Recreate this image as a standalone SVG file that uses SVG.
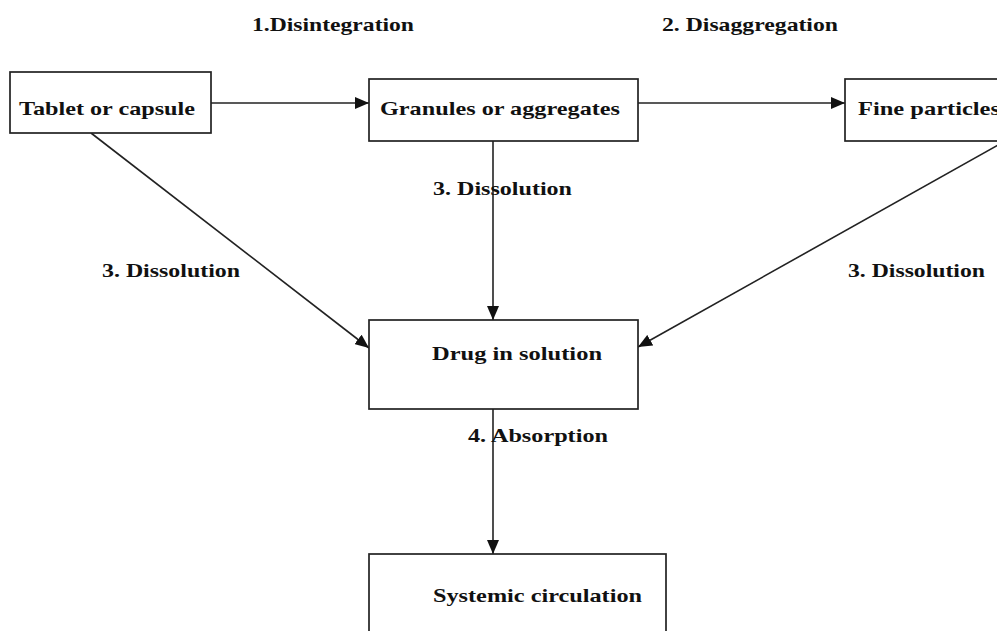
<svg xmlns="http://www.w3.org/2000/svg" width="997" height="631" viewBox="0 0 997 631">
<style>
.box{fill:#fff;stroke:#222;stroke-width:1.7}
.t{font-family:"Liberation Serif","Times New Roman",serif;font-weight:bold;font-size:19.5px;fill:#111}
.c{stroke:#222;stroke-width:1.6;fill:none;marker-end:url(#ah)}
</style>
<defs>
<marker id="ah" markerWidth="14" markerHeight="12" refX="14" refY="6" orient="auto" markerUnits="userSpaceOnUse">
<path d="M0,0 L14,6 L0,12 Z" fill="#111"/>
</marker>
</defs>
<rect width="997" height="631" fill="#fff"/>
<g id="connectors">
<line class="c" x1="211" y1="103" x2="369" y2="103"/>
<line class="c" x1="638" y1="103" x2="845" y2="103"/>
<line class="c" x1="493" y1="141" x2="493" y2="320"/>
<line class="c" x1="91" y1="133" x2="369" y2="348"/>
<line class="c" x1="998" y1="145" x2="638" y2="347"/>
<line class="c" x1="493" y1="409" x2="493" y2="554"/>
</g>
<g id="labels">
<text class="t" x="252" y="31" textLength="162" lengthAdjust="spacingAndGlyphs">1.Disintegration</text>
<text class="t" x="662" y="31" textLength="176" lengthAdjust="spacingAndGlyphs">2. Disaggregation</text>
<text class="t" x="102" y="277" textLength="138" lengthAdjust="spacingAndGlyphs">3. Dissolution</text>
<text class="t" x="433" y="195" textLength="139" lengthAdjust="spacingAndGlyphs">3. Dissolution</text>
<text class="t" x="848" y="277" textLength="137" lengthAdjust="spacingAndGlyphs">3. Dissolution</text>
<text class="t" x="468" y="442" textLength="140" lengthAdjust="spacingAndGlyphs">4. Absorption</text>
</g>
<g id="tablet">
<rect class="box" x="10" y="72" width="201" height="61"/>
<text class="t" x="19" y="115" textLength="176" lengthAdjust="spacingAndGlyphs">Tablet or capsule</text>
</g>
<g id="granules">
<rect class="box" x="369" y="79" width="269" height="62"/>
<text class="t" x="380" y="115" textLength="240" lengthAdjust="spacingAndGlyphs">Granules or aggregates</text>
</g>
<g id="fine">
<rect class="box" x="845" y="79" width="170" height="62"/>
<text class="t" x="858" y="115" textLength="142" lengthAdjust="spacingAndGlyphs">Fine particles</text>
</g>
<g id="drug">
<rect class="box" x="369" y="320" width="269" height="89"/>
<text class="t" x="432" y="360" textLength="170" lengthAdjust="spacingAndGlyphs">Drug in solution</text>
</g>
<g id="systemic">
<rect class="box" x="369" y="554" width="297" height="100"/>
<text class="t" x="433" y="602" textLength="209" lengthAdjust="spacingAndGlyphs">Systemic circulation</text>
</g>
</svg>
